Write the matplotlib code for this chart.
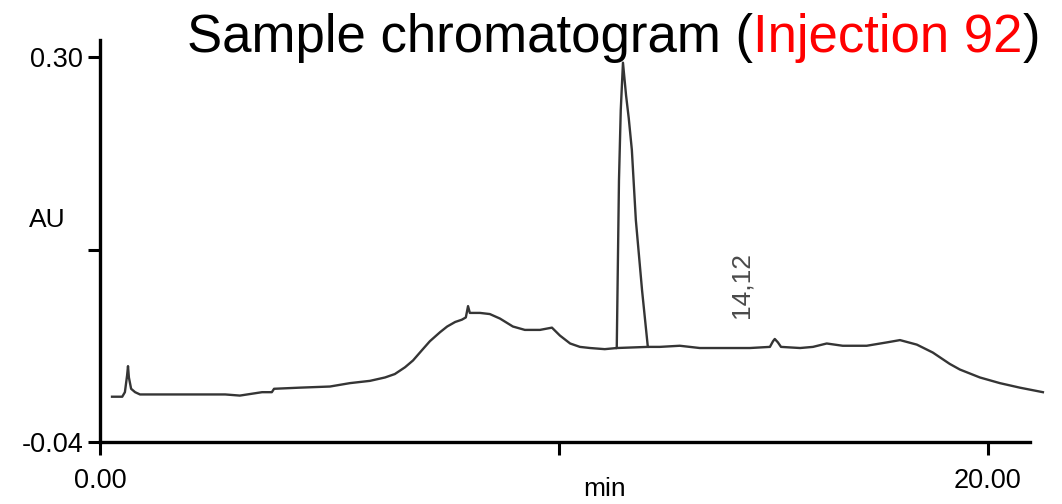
import matplotlib
matplotlib.use("Agg")
import matplotlib.pyplot as plt

plt.rcParams['font.family'] = ['Liberation Sans', 'DejaVu Sans']

# retention time (min) and absorbance (AU) of the detector trace
time_min = [0.27, 0.50, 0.56, 0.61, 0.63, 0.65, 0.70, 0.79, 0.90, 1.01,
            1.58, 2.25, 2.82, 3.15, 3.65, 3.87, 3.92, 4.50, 5.18, 5.63,
            6.08, 6.42, 6.64, 6.87, 7.05, 7.25, 7.43, 7.66, 7.82, 8.00,
            8.15, 8.24, 8.29, 8.33, 8.56, 8.78, 9.01, 9.30, 9.57, 9.91,
            10.18, 10.36, 10.59, 10.81, 11.04, 11.37, 11.64, 11.69, 11.73, 11.78,
            11.85, 11.91, 11.98, 12.07, 12.21, 12.34, 12.61, 13.06, 13.51, 14.64,
            15.09, 15.16, 15.20, 15.27, 15.34, 15.77, 16.06, 16.37, 16.73, 17.27,
            17.73, 18.02, 18.40, 18.76, 19.14, 19.37, 19.82, 20.27, 20.72, 21.24]
absorb_au = [0.000, 0.000, 0.004, 0.019, 0.027, 0.017, 0.007, 0.004, 0.002, 0.002,
             0.002, 0.002, 0.002, 0.001, 0.004, 0.004, 0.007, 0.008, 0.009, 0.012,
             0.014, 0.017, 0.020, 0.026, 0.032, 0.041, 0.049, 0.057, 0.062, 0.066,
             0.068, 0.070, 0.080, 0.074, 0.074, 0.073, 0.069, 0.062, 0.059, 0.059,
             0.061, 0.054, 0.047, 0.044, 0.043, 0.042, 0.043, 0.191, 0.253, 0.295,
             0.266, 0.246, 0.218, 0.156, 0.094, 0.044, 0.044, 0.045, 0.043, 0.043,
             0.044, 0.049, 0.051, 0.048, 0.044, 0.043, 0.044, 0.047, 0.045, 0.045,
             0.048, 0.050, 0.046, 0.039, 0.029, 0.024, 0.017, 0.012, 0.008, 0.004]

# integration baseline under the main peak
peak_start = 11.64
peak_end = 12.34
peak_base_au = [0.043, 0.044]

peak_label = "14,12"
peak_label_pos = (14.46, 0.099)

x_ticks = [0.0, 10.35, 20.0]
x_tick_labels = ["0.00", "", "20.00"]
y_ticks = [-0.04, 0.13, 0.30]
y_tick_labels = ["-0.04", "", "0.30"]

fig = plt.figure(figsize=(10.62, 5.04), dpi=100)
ax = fig.add_axes([0.0942, 0.1230, 0.8757, 0.7976])

trace_color = "#353535"
ax.plot(time_min, absorb_au, color=trace_color, lw=1.7, clip_on=False,
        solid_joinstyle="round")
ax.plot([peak_start, peak_end], peak_base_au, color=trace_color, lw=1.7)

ax.text(peak_label_pos[0], peak_label_pos[1], peak_label, rotation=90,
        ha="center", va="center", fontsize=19, color="#4a4a4a")

ax.set_xlim(0, 20.95)
ax.set_ylim(-0.04, 0.315)
ax.set_xticks(x_ticks)
ax.set_xticklabels(x_tick_labels)
ax.set_yticks(y_ticks)
ax.set_yticklabels(y_tick_labels)

for side in ["top", "right"]:
    ax.spines[side].set_visible(False)
for side in ["left", "bottom"]:
    ax.spines[side].set_linewidth(2.4)

ax.tick_params(axis="both", direction="out", length=9, width=2.2,
               labelsize=19.5)
ax.tick_params(axis="x", pad=10)
ax.tick_params(axis="y", pad=3)

fig.text(47 / 1062, 1 - 220 / 504, "AU", ha="center", va="center", fontsize=19)
fig.text(605 / 1062, 1 - 489 / 504, "min", ha="center", va="center", fontsize=19)

# title in three pieces so the injection number can be red
fig.canvas.draw()
renderer = fig.canvas.get_renderer()
title_y = 1 - 52 / 504
right = 1040 / 1062
for piece, color in [(")", "black"), ("Injection 92", "red"),
                     ("Sample chromatogram (", "black")]:
    t = fig.text(right, title_y, piece, ha="right", va="baseline",
                 fontsize=38, color=color)
    bb = t.get_window_extent(renderer)
    right = bb.x0 / fig.bbox.width

fig.savefig("out.png", dpi=100)
